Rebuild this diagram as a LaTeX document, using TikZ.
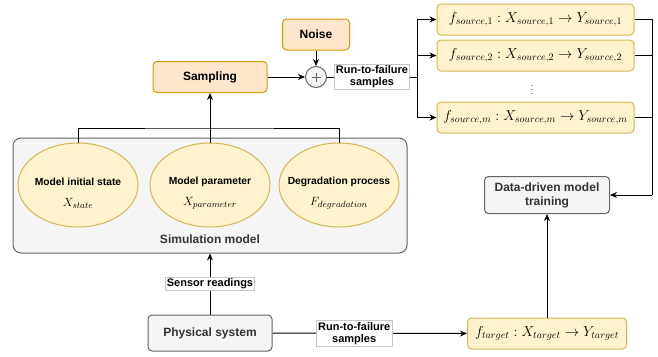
\documentclass[tikz,border=0pt]{standalone}
\usepackage{fontspec}
\setmainfont{Liberation Sans}
\usetikzlibrary{arrows.meta,shapes.geometric}
\definecolor{orfill}{HTML}{FFE6CC}
\definecolor{ordraw}{HTML}{D79B00}
\definecolor{yefill}{HTML}{FFF2CC}
\definecolor{yedraw}{HTML}{D6B656}
\definecolor{grfill}{HTML}{F5F5F5}
\definecolor{grdraw}{HTML}{666666}
\definecolor{grtext}{HTML}{333333}

\begin{document}
\begin{tikzpicture}[x=1pt,y=-1pt,line width=1pt,
  box/.style={draw,rounded corners=4pt,inner sep=0pt,align=center,font=\fontsize{12}{14}\selectfont\bfseries},
  orbox/.style={box,fill=orfill,draw=ordraw},
  yebox/.style={box,fill=yefill,draw=yedraw,minimum width=197pt,minimum height=31pt,font=\fontsize{14}{16}\selectfont},
  grbox/.style={box,fill=grfill,draw=grdraw,text=grtext},
  ell/.style={ellipse,draw=yedraw,fill=yefill,minimum width=120pt,minimum height=84pt,inner sep=0pt},
  etitle/.style={font=\fontsize{10.3}{12}\selectfont\bfseries,inner sep=0pt},
  emath/.style={font=\fontsize{12.5}{14}\selectfont,inner sep=0pt},
  lbl/.style={fill=white,draw=gray!45,line width=0.4pt,align=center,inner sep=1.5pt,font=\fontsize{11}{12}\selectfont\bfseries},
  arr/.style={-{Stealth[length=7pt,width=6pt]}}]
\useasboundingbox (0,0) rectangle (658,356);

\node[grbox,minimum width=394pt,minimum height=115pt,rounded corners=8pt] (sim) at (210,195.5) {};
\node[font=\fontsize{12}{14}\selectfont\bfseries,text=grtext,inner sep=0pt] (simlbl) at (210,239) {Simulation model};

\node[ell] (e1) at (78,185) {};
\node[ell] (e2) at (210,185) {};
\node[ell] (e3) at (339,185) {};
\node[etitle] (e1t) at ([yshift=3pt]e1.center) {Model initial state};
\node[etitle] (e2t) at ([yshift=3pt]e2.center) {Model parameter};
\node[etitle] (e3t) at ([yshift=3pt]e3.center) {Degradation process};
\node[emath] (e1m) at ([yshift=-18pt]e1.center) {$X_{state}$};
\node[emath] (e2m) at ([yshift=-18pt]e2.center) {$X_{parameter}$};
\node[emath] (e3m) at ([yshift=-18pt]e3.center) {$F_{degradation}$};

\node[orbox,minimum width=114pt,minimum height=31pt] (sampling) at (210,77) {Sampling};
\node[orbox,minimum width=67pt,minimum height=31pt] (noise) at (316,34.5) {Noise};
\node[circle,draw=grdraw,fill=grfill,minimum size=21pt,inner sep=0pt] (plus) at (316,77) {};
\draw[grdraw,line width=0.6pt] ([xshift=-4.5pt]plus.center) -- ([xshift=4.5pt]plus.center)
  ([yshift=-4.5pt]plus.center) -- ([yshift=4.5pt]plus.center);

\node[yebox] (src1) at (535.5,19.5) {$f_{source,1}:X_{source,1}\rightarrow Y_{source,1}$};
\node[yebox] (src2) at (535.5,55.5) {$f_{source,2}:X_{source,2}\rightarrow Y_{source,2}$};
\node[inner sep=0pt,font=\fontsize{8}{9}\selectfont] (dots) at (532,87) {$\vdots$};
\node[yebox] (srcm) at (535.5,117.5) {$f_{source,m}:X_{source,m}\rightarrow Y_{source,m}$};

\node[grbox,minimum width=125pt,minimum height=37pt] (data) at (547,195) {Data-driven model\\training};
\node[yebox,minimum width=159pt] (target) at (547,333.5) {$f_{target}:X_{target}\rightarrow Y_{target}$};
\node[grbox,minimum width=124pt,minimum height=36pt] (phys) at (210,333) {Physical system};

\coordinate (bus) at (210,128);
\coordinate (split) at (417,77);
\coordinate (rail) at (652,195);

\draw (e1.north) |- (bus) -| (e3.north);
\draw[arr] (e2.north) -- (sampling.south);
\draw[arr] (sampling.east) -- (plus.west);
\draw[arr] (noise.south) -- (plus.north);
\draw (plus.east) -- node[lbl] (lbltop) {Run-to-failure\\samples} (split);
\draw[arr] (split) |- (src1.west);
\draw[arr] (split) |- (src2.west);
\draw[arr] (split) |- (srcm.west);
\draw (src1.east) -| (rail);
\draw (src2.east) -- (src2.east -| rail);
\draw (srcm.east) -- (srcm.east -| rail);
\draw[arr] (rail) -- (data.east);
\draw[arr] (target.north) -- (data.south);
\draw[arr] (phys.east) -- node[lbl,pos=0.42] (lblbot) {Run-to-failure\\samples} (target.west);
\draw[arr] (phys.north) -- node[lbl] (lblsens) {Sensor readings} (sim.south);
\end{tikzpicture}
\end{document}
